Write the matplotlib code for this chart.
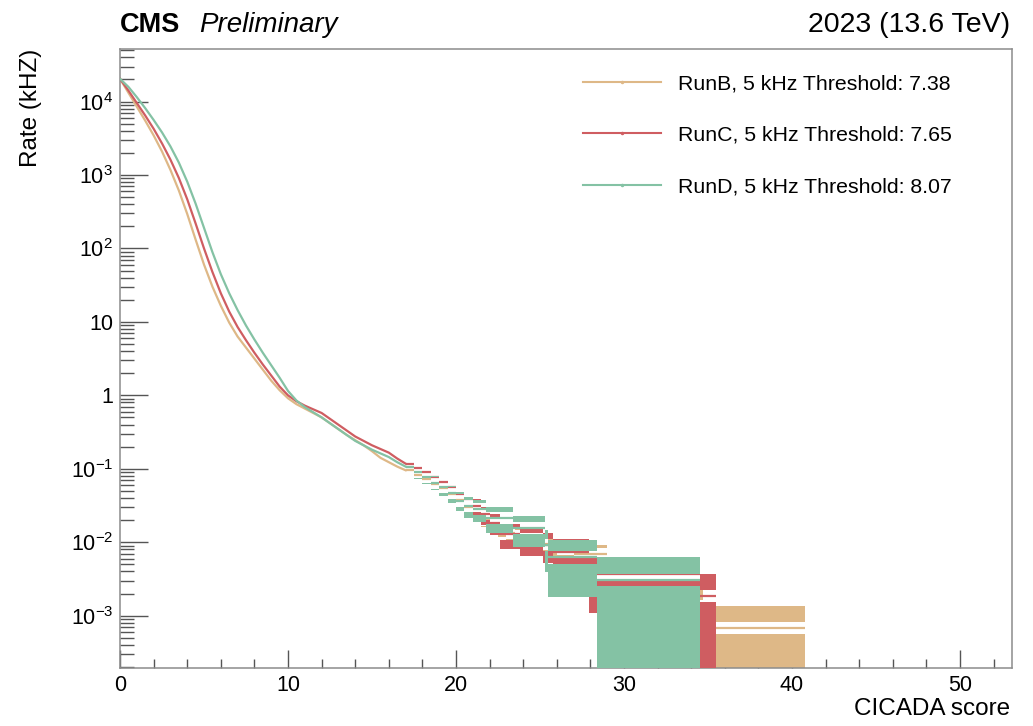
import numpy as np
import matplotlib.pyplot as plt
from matplotlib.lines import Line2D
from matplotlib.ticker import FixedLocator, LogLocator, MultipleLocator, NullFormatter

plt.rcParams['font.family'] = ['Liberation Sans', 'DejaVu Sans']
plt.rcParams['mathtext.fontset'] = 'custom'
plt.rcParams['mathtext.rm'] = 'Liberation Sans'
plt.rcParams['mathtext.it'] = 'Liberation Sans:italic'
plt.rcParams['mathtext.bf'] = 'Liberation Sans:bold'

runs = ["RunB", "RunC", "RunD"]
thresholds = [7.38, 7.65, 8.07]
colors = ["#DEB887", "#CF5D61", "#84C2A4"]
# rate of a single event in each run (kHz) -> poisson error of the tail
event_rate = [6.7e-4, 1.85e-3, 3.1e-3]

# smooth part of the curves, log10(rate in kHz)
score_smooth = [0, 0.5, 1, 1.5, 2, 2.5, 3, 3.5, 4, 4.5, 5, 5.5, 6, 6.5, 7, 7.5, 8, 8.5,
                9, 9.5, 10, 10.5, 11, 11.5, 12, 12.5, 13, 13.5, 14, 14.5, 15, 15.5, 16, 16.5, 17]
lograte_b = [4.31, 4.12, 3.93, 3.74, 3.54, 3.32, 3.07, 2.79, 2.47, 2.12, 1.78, 1.48, 1.22, 0.99,
             0.80, 0.65, 0.50, 0.35, 0.20, 0.07, -0.04, -0.12, -0.18, -0.24, -0.30, -0.38, -0.46,
             -0.54, -0.61, -0.68, -0.76, -0.85, -0.91, -0.97, -1.02]
lograte_c = [4.31, 4.15, 3.98, 3.81, 3.63, 3.43, 3.21, 2.96, 2.67, 2.34, 2.00, 1.68, 1.39, 1.14,
             0.93, 0.75, 0.58, 0.42, 0.27, 0.12, 0.00, -0.08, -0.14, -0.19, -0.24, -0.32, -0.40,
             -0.48, -0.56, -0.62, -0.68, -0.73, -0.78, -0.86, -0.93]
lograte_d = [4.31, 4.20, 4.06, 3.91, 3.75, 3.58, 3.39, 3.17, 2.91, 2.61, 2.28, 1.95, 1.65, 1.39,
             1.16, 0.95, 0.76, 0.58, 0.41, 0.24, 0.06, -0.07, -0.16, -0.23, -0.30, -0.38, -0.46,
             -0.54, -0.62, -0.68, -0.74, -0.79, -0.84, -0.91, -0.97]

# low statistics tail: bin edges and rates (kHz)
tail_edges_b = [17, 17.5, 18, 18.5, 19, 19.5, 20, 20.5, 21, 21.5, 22, 22.5, 23, 23.5, 24, 24.5,
                25, 25.5, 26, 27, 29.0, 34.7, 40.8]
tail_rate_b = [0.095, 0.083, 0.072, 0.063, 0.054, 0.046, 0.038, 0.030, 0.024, 0.020, 0.0174,
               0.0151, 0.0135, 0.0123, 0.0112, 0.0102, 0.0095, 0.0087, 0.0081, 0.0070, 0.00134,
               0.00067]
tail_edges_c = [17, 17.5, 18, 18.5, 19, 19.5, 20, 20.5, 21, 21.5, 22, 22.6, 23.8, 25.2, 25.8,
                27.9, 34.5, 35.5]
tail_rate_c = [0.118, 0.104, 0.091, 0.078, 0.067, 0.056, 0.046, 0.039, 0.031, 0.024, 0.0185,
               0.013, 0.011, 0.0093, 0.0074, 0.0037, 0.00185]
tail_edges_d = [17, 17.5, 18, 18.5, 19, 19.5, 20, 20.5, 21, 21.8, 23.4, 25.3, 25.5, 28.4, 34.5]
tail_rate_d = [0.105, 0.090, 0.0775, 0.065, 0.056, 0.0465, 0.037, 0.031, 0.028, 0.0217, 0.0155,
               0.0093, 0.0062, 0.0031]

ytick_vals = [1e-3, 1e-2, 1e-1, 1, 10, 1e2, 1e3, 1e4]
ytick_text = [r"$10^{-3}$", r"$10^{-2}$", r"$10^{-1}$", "1", "10",
              r"$10^{2}$", r"$10^{3}$", r"$10^{4}$"]

smooth = [lograte_b, lograte_c, lograte_d]
tails = [(tail_edges_b, tail_rate_b), (tail_edges_c, tail_rate_c), (tail_edges_d, tail_rate_d)]

fig = plt.figure(figsize=(10.33, 7.26), dpi=100)
ax = fig.add_axes([0.1162, 0.0799, 0.8635, 0.8526])
ax.set_yscale('log')

gap = 10 ** 0.082  # hollow around the central value (marker area)
handles = []
for k in range(3):
    c = colors[k]
    z = 2 + k
    ax.plot(score_smooth, 10 ** np.array(smooth[k]), color=c, lw=1.6, zorder=z)

    edges = np.array(tails[k][0])
    v = np.array(tails[k][1])
    err = np.sqrt(v * event_rate[k])
    left = edges[:-1]
    width = np.diff(edges)
    hi = v + err
    lo = np.clip(v - err, 1e-6, None)

    up = v * gap
    m = hi > up
    ax.bar(left[m], hi[m] - up[m], bottom=up[m], width=width[m], align='edge',
           color=c, lw=0, zorder=z)
    dn = v / gap
    m = lo < dn
    ax.bar(left[m], dn[m] - lo[m], bottom=lo[m], width=width[m], align='edge',
           color=c, lw=0, zorder=z)
    ax.hlines(v, left, edges[1:], color=c, lw=1.6, zorder=z)

    handles.append(Line2D([], [], color=c, lw=1.5, marker='o', markersize=1.5,
                          label=f"{runs[k]}, 5 kHz Threshold: {thresholds[k]:.2f}"))

ax.set_xlim(0, 53.1)
ax.set_ylim(1.94e-4, 5.2e4)

ax.xaxis.set_major_locator(MultipleLocator(10))
ax.xaxis.set_minor_locator(MultipleLocator(2))
ax.yaxis.set_major_locator(FixedLocator(ytick_vals))
ax.set_yticklabels(ytick_text)
ax.yaxis.set_minor_locator(LogLocator(base=10, subs=np.arange(2, 10), numticks=50))
ax.yaxis.set_minor_formatter(NullFormatter())

ax.tick_params(axis='both', which='both', direction='in', top=False, right=False,
               color='#555555', width=1.0, labelsize=15.5)
ax.tick_params(axis='y', which='major', length=20, pad=5)
ax.tick_params(axis='y', which='minor', length=10)
ax.tick_params(axis='x', which='major', length=13, pad=5)
ax.tick_params(axis='x', which='minor', length=6.5)
for s in ax.spines.values():
    s.set_color('#8c8c8c')
    s.set_linewidth(1.1)

ax.set_xlabel("CICADA score", fontsize=17.5, loc='right')
ax.set_ylabel("Rate (kHZ)", fontsize=17.5, loc='top')
ax.xaxis.set_label_coords(0.998, -0.048)
ax.yaxis.set_label_coords(-0.088, 1.0)

ax.legend(handles=handles, loc='upper left', bbox_to_anchor=(0.5187, 0.959),
          frameon=False, fontsize=15.3, handlelength=3.67, handletextpad=0.8,
          labelspacing=1.53, borderpad=0, borderaxespad=0, numpoints=1)

fig.text(120 / 1033, 694 / 726, "CMS", fontsize=19.5, fontweight='bold', va='baseline')
fig.text(199 / 1033, 694 / 726, "Preliminary", fontsize=20, fontstyle='italic', va='baseline')
fig.text(1010 / 1033, 694 / 726, "2023 (13.6 TeV)", fontsize=20.5, ha='right', va='baseline')

fig.savefig("out.png", dpi=100)
